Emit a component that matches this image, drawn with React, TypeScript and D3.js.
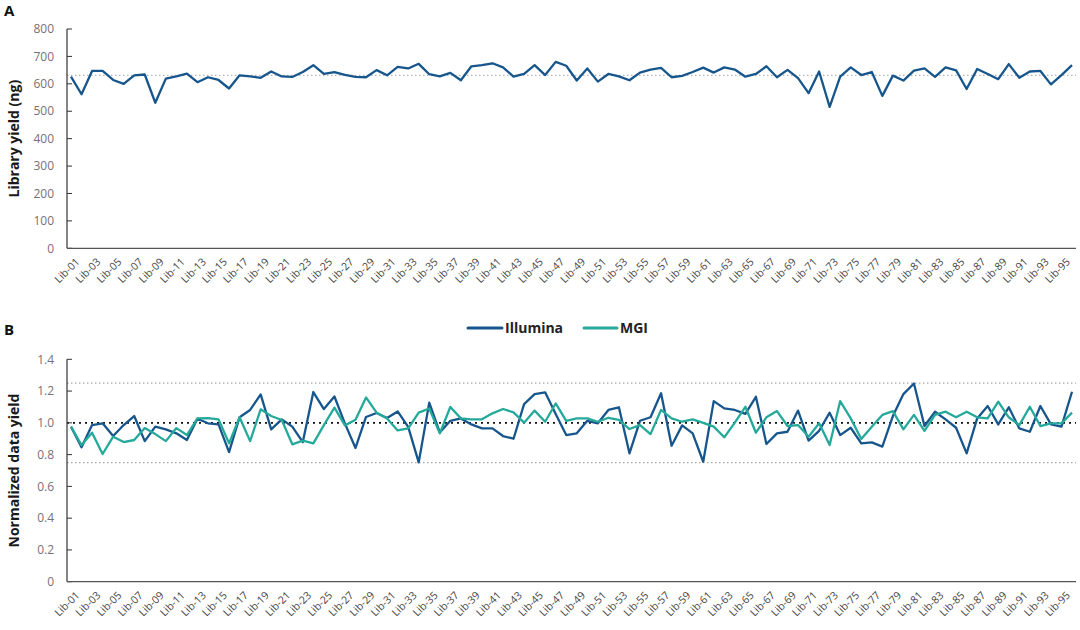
import React from "react";
import * as d3 from "d3";

const libs: string[] = Array.from({ length: 96 }, (_, i) => `Lib-${String(i + 1).padStart(2, "0")}`);

const libraryYield: number[] = [
  626, 562, 647, 647, 614, 600, 631, 634, 531, 619,
  627, 637, 606, 624, 614, 583, 631, 627, 622, 645,
  627, 625, 643, 668, 636, 643, 633, 625, 624, 650,
  631, 662, 656, 673, 635, 627, 640, 613, 664, 668,
  675, 660, 626, 636, 668, 632, 680, 666, 612, 656,
  608, 636, 627, 613, 641, 652, 658, 624, 629, 643,
  659, 641, 660, 652, 626, 636, 664, 624, 651, 621,
  566, 645, 516, 626, 660, 632, 643, 556, 630, 612,
  648, 656, 625, 660, 649, 581, 654, 636, 617, 672,
  622, 645, 647, 598, 632, 668,
];
const meanYield = 631;

const illumina: number[] = [
  0.976, 0.846, 0.986, 0.997, 0.917, 0.986, 1.043, 0.885, 0.976, 0.959,
  0.934, 0.892, 1.026, 0.997, 0.99, 0.816, 1.035, 1.081, 1.179, 0.959,
  1.022, 0.976, 0.879, 1.194, 1.087, 1.166, 0.995, 0.842, 1.037, 1.062,
  1.03, 1.072, 0.975, 0.751, 1.127, 0.94, 1.013, 1.028, 0.99, 0.965,
  0.965, 0.917, 0.9, 1.118, 1.181, 1.192, 1.056, 0.923, 0.934, 1.013,
  0.997, 1.081, 1.098, 0.808, 1.013, 1.035, 1.186, 0.856, 0.984, 0.934,
  0.755, 1.137, 1.091, 1.081, 1.056, 1.164, 0.867, 0.934, 0.944, 1.077,
  0.888, 0.95, 1.064, 0.923, 0.969, 0.871, 0.877, 0.85, 1.043, 1.181,
  1.248, 0.98, 1.07, 1.022, 0.969, 0.808, 1.028, 1.106, 0.99, 1.098,
  0.965, 0.944, 1.106, 0.99, 0.976, 1.196,
];

const mgi: number[] = [
  0.976, 0.86, 0.938, 0.804, 0.913, 0.879, 0.892, 0.967, 0.929, 0.885,
  0.967, 0.923, 1.028, 1.03, 1.022, 0.871, 1.035, 0.885, 1.085, 1.043,
  1.018, 0.865, 0.888, 0.871, 0.986, 1.096, 0.984, 1.02, 1.16, 1.064,
  1.028, 0.952, 0.965, 1.064, 1.09, 0.934, 1.1, 1.028, 1.022, 1.022,
  1.06, 1.087, 1.066, 1.001, 1.077, 1.007, 1.122, 1.013, 1.028, 1.028,
  1.007, 1.032, 1.018, 0.961, 0.986, 0.929, 1.081, 1.028, 1.007, 1.022,
  1.0, 0.976, 0.909, 1.001, 1.101, 0.938, 1.035, 1.074, 0.98, 0.986,
  0.913, 0.997, 0.86, 1.137, 1.028, 0.898, 0.976, 1.05, 1.074, 0.959,
  1.05, 0.95, 1.05, 1.07, 1.035, 1.07, 1.035, 1.028, 1.133, 1.035,
  0.986, 1.101, 0.98, 0.997, 0.997, 1.064,
];

const yTicksA: number[] = [0, 100, 200, 300, 400, 500, 600, 700, 800];
const yTicksB: number[] = [0, 0.2, 0.4, 0.6, 0.8, 1.0, 1.2, 1.4];
const refB = { center: 1.0, upper: 1.25, lower: 0.75 };

const BLUE = "#17568c";
const TEAL = "#25a99b";
const FONT = "'Open Sans', 'Noto Sans', sans-serif";

const AXIS_X = 67;
const PLOT_RIGHT = 1076;

const x = d3.scalePoint<string>().domain(libs).range([71, 1072]);

function Panel({
  top, bottom, domain, ticks, fmt, title, letter, letterY,
  series, refs,
}: {
  top: number; bottom: number; domain: [number, number]; ticks: number[];
  fmt: (v: number) => string; title: string; letter: string; letterY: number;
  series: { values: number[]; color: string }[];
  refs: { value: number; color: string; dash: string; width: number }[];
}) {
  const y = d3.scaleLinear().domain(domain).range([bottom, top]);
  return (
    <g>
      <text x={4} y={letterY} fontFamily={FONT} fontWeight={700} fontSize={15} fill="#111">{letter}</text>
      <text
        transform={`translate(19,${(top + bottom) / 2}) rotate(-90)`}
        textAnchor="middle"
        fontFamily={FONT}
        fontWeight={700}
        fontSize={14}
        fill="#1a1a1a"
      >{title}</text>
      {refs.map((r, i) => (
        <line key={i} x1={AXIS_X} x2={PLOT_RIGHT} y1={y(r.value)} y2={y(r.value)}
          stroke={r.color} strokeWidth={r.width} strokeDasharray={r.dash} />
      ))}
      {ticks.map((t) => (
        <g key={t}>
          <line x1={AXIS_X} x2={AXIS_X + 5} y1={y(t)} y2={y(t)} stroke="#333" strokeWidth={1} />
          <text x={54} y={y(t)} dy="0.35em" textAnchor="end" fontFamily={FONT} fontSize={12} fill="#77707a">{fmt(t)}</text>
        </g>
      ))}
      <line x1={AXIS_X} x2={AXIS_X} y1={top} y2={bottom} stroke="#333" strokeWidth={1.2} />
      <line x1={AXIS_X} x2={PLOT_RIGHT} y1={bottom} y2={bottom} stroke="#555" strokeWidth={1.2} />
      {libs.map((l, i) => i % 2 === 0 ? (
        <text key={l}
          transform={`translate(${(x(l) as number) + 4},${bottom + 9}) rotate(-45)`}
          textAnchor="end" dy="0.7em"
          fontFamily={FONT} fontSize={10.5} fill="#444">{l}</text>
      ) : null)}
      {series.map((s, k) => {
        const line = d3.line<number>().x((_, i) => x(libs[i]) as number).y((v) => y(v));
        return <path key={k} d={line(s.values) || ""} fill="none" stroke={s.color} strokeWidth={2.3} strokeLinejoin="round" />;
      })}
    </g>
  );
}

export default function App() {
  return (
    <svg width={1080} height={630} style={{ position: "absolute", left: 0, top: 0, background: "#fff" }}>
      <Panel
        top={29} bottom={248.3} domain={[0, 800]} ticks={yTicksA}
        fmt={(v) => String(v)} title="Library yield (ng)" letter="A" letterY={16}
        series={[{ values: libraryYield, color: BLUE }]}
        refs={[{ value: meanYield, color: "#b5b5b5", dash: "1.5,2.5", width: 1.3 }]}
      />
      <Panel
        top={359.3} bottom={581.7} domain={[0, 1.4]} ticks={yTicksB}
        fmt={(v) => (v === 0 ? "0" : v.toFixed(1))} title="Normalized data yield" letter="B" letterY={335}
        series={[{ values: illumina, color: BLUE }, { values: mgi, color: TEAL }]}
        refs={[
          { value: refB.upper, color: "#a8a8a8", dash: "1.5,2.5", width: 1.3 },
          { value: refB.lower, color: "#a8a8a8", dash: "1.5,2.5", width: 1.3 },
          { value: refB.center, color: "#111", dash: "2,4", width: 1.8 },
        ]}
      />
      <g fontFamily={FONT} fontWeight={700} fontSize={14} fill="#222">
        <line x1={468} x2={502} y1={328} y2={328} stroke={BLUE} strokeWidth={3} strokeLinecap="round" />
        <text x={505} y={328} dy="0.35em">Illumina</text>
        <line x1={584} x2={617} y1={328} y2={328} stroke={TEAL} strokeWidth={3} strokeLinecap="round" />
        <text x={620} y={328} dy="0.35em">MGI</text>
      </g>
    </svg>
  );
}
